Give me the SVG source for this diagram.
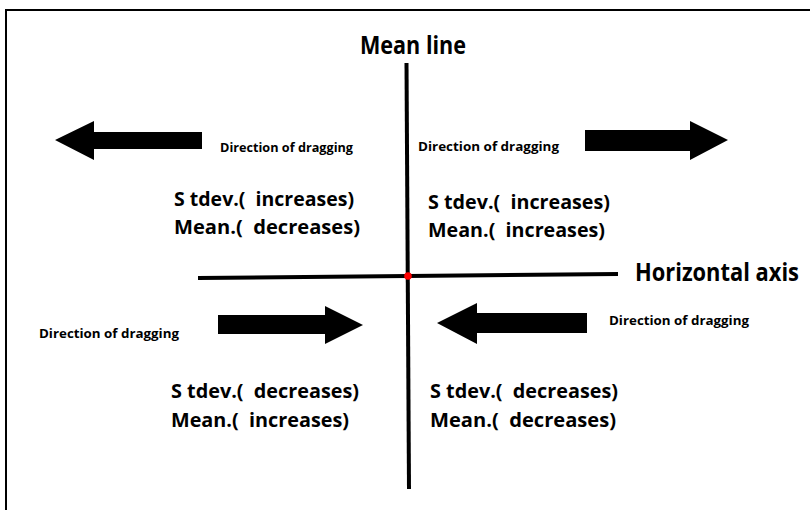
<svg xmlns="http://www.w3.org/2000/svg" width="810" height="510" viewBox="0 0 810 510">
<style>
.t{font-family:"Open Sans","Noto Sans","Liberation Sans",sans-serif;font-weight:bold;fill:#000;white-space:pre}
.big{font-size:20px}
.sm{font-size:13px}
.ttl{font-size:25px}
.ax{stroke:#000;stroke-width:4;fill:none}
.arr{fill:#000}
</style>
<rect width="810" height="510" fill="#fff"/>
<path d="M6,510 V10 H810" stroke="#000" stroke-width="2" fill="none"/>
<g id="connectors">
<line class="ax" x1="406.5" y1="63" x2="409" y2="489"/>
<line class="ax" x1="198" y1="278" x2="618" y2="274"/>
</g>
<g id="origin"><circle cx="408" cy="276" r="3.8" fill="#f00"/></g>
<g id="mean-line"><text class="t ttl" x="360" y="54" textLength="106" lengthAdjust="spacingAndGlyphs">Mean line</text></g>
<g id="horizontal-axis"><text class="t ttl" x="635" y="281" textLength="164" lengthAdjust="spacingAndGlyphs">Horizontal axis</text></g>
<g id="arrow-tl"><polygon class="arr" points="55,140 94,121 94,132 202,132 202,149 94,149 94,160"/></g>
<g id="arrow-tr"><polygon class="arr" points="728,140 690,121 690,130 585,130 585,151 690,151 690,160"/></g>
<g id="arrow-bl"><polygon class="arr" points="363,325 325,306 325,315 218,315 218,334 325,334 325,344"/></g>
<g id="arrow-br"><polygon class="arr" points="437,323 477,303 477,313 587,313 587,333 477,333 477,344"/></g>
<g id="label-tl">
<text class="t sm" x="220" y="152" textLength="133" lengthAdjust="spacingAndGlyphs">Direction of dragging</text>
<text class="t big" x="174" y="206" textLength="180" lengthAdjust="spacingAndGlyphs">S tdev.(  increases)</text>
<text class="t big" x="174" y="234" textLength="186" lengthAdjust="spacingAndGlyphs">Mean.(  decreases)</text>
</g>
<g id="label-tr">
<text class="t sm" x="418" y="151" textLength="141" lengthAdjust="spacingAndGlyphs">Direction of dragging</text>
<text class="t big" x="428" y="209" textLength="182" lengthAdjust="spacingAndGlyphs">S tdev.(  increases)</text>
<text class="t big" x="428" y="237" textLength="177" lengthAdjust="spacingAndGlyphs">Mean.(  increases)</text>
</g>
<g id="label-bl">
<text class="t sm" x="39" y="338" textLength="140" lengthAdjust="spacingAndGlyphs">Direction of dragging</text>
<text class="t big" x="171" y="398" textLength="188" lengthAdjust="spacingAndGlyphs">S tdev.(  decreases)</text>
<text class="t big" x="171" y="427" textLength="178" lengthAdjust="spacingAndGlyphs">Mean.(  increases)</text>
</g>
<g id="label-br">
<text class="t sm" x="609" y="325" textLength="140" lengthAdjust="spacingAndGlyphs">Direction of dragging</text>
<text class="t big" x="430" y="398" textLength="188" lengthAdjust="spacingAndGlyphs">S tdev.(  decreases)</text>
<text class="t big" x="430" y="427" textLength="186" lengthAdjust="spacingAndGlyphs">Mean.(  decreases)</text>
</g>
</svg>
